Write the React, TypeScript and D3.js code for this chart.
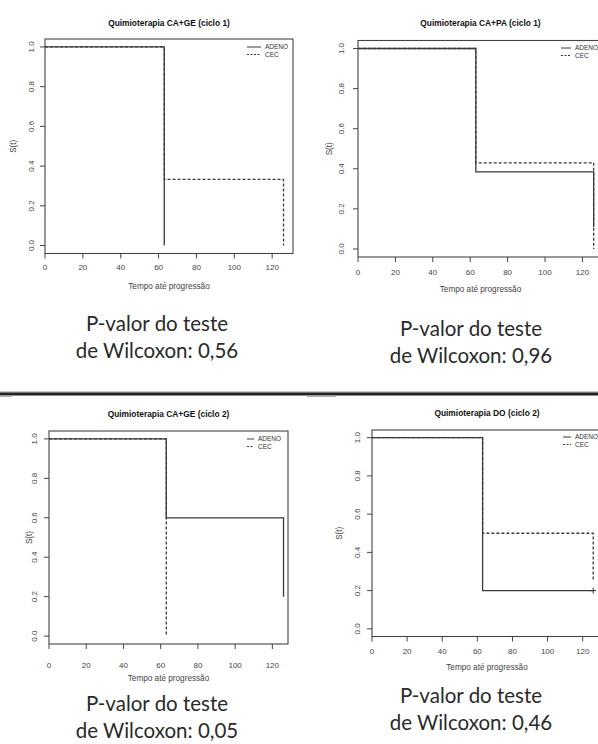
import React from 'react';
import * as d3 from 'd3';

// tick values shared by all four plots
const timeTicks = [0, 20, 40, 60, 80, 100, 120];
const survTicks = [0, 0.2, 0.4, 0.6, 0.8, 1.0];

// Kaplan-Meier steps (time, S(t))
const adeno1Times = [0, 63];
const adeno1Surv = [1, 0];
const cec1Times = [0, 63, 126];
const cec1Surv = [1, 0.333, 0];

const adeno2Times = [0, 63, 126];
const adeno2Surv = [1, 0.385, 0.11];
const cec2Times = [0, 63, 126];
const cec2Surv = [1, 0.43, 0];

const adeno3Times = [0, 63, 126];
const adeno3Surv = [1, 0.6, 0.2];
const cec3Times = [0, 63];
const cec3Surv = [1, 0];

const adeno4Times = [0, 63, 126];
const adeno4Surv = [1, 0.2, 0.2];
const cec4Times = [0, 63, 126];
const cec4Surv = [1, 0.5, 0.25];
const adeno4Censor = [126];

const titles = [
  'Quimioterapia CA+GE (ciclo 1)',
  'Quimioterapia CA+PA (ciclo 1)',
  'Quimioterapia CA+GE (ciclo 2)',
  'Quimioterapia DO (ciclo 2)',
];
const pValues = ['0,56', '0,96', '0,05', '0,46'];
const legendLabels = ['ADENO', 'CEC'];

const toPoints = (ts: number[], ss: number[]) => ts.map((t, i) => ({ t, s: ss[i] }));

const panels = [
  {
    title: titles[0], adeno: toPoints(adeno1Times, adeno1Surv), cec: toPoints(cec1Times, cec1Surv), censor: [] as number[],
    left: 45, right: 293, top: 39, bottom: 253.5, xMax: 131, titleY: 26, tickY: 270, xLabY: 289, yLabX: 16, yTickX: 34,
    legX: 247, legLen: 14, legY: 47, pX: 157, pY: 331, pV: pValues[0],
  },
  {
    title: titles[1], adeno: toPoints(adeno2Times, adeno2Surv), cec: toPoints(cec2Times, cec2Surv), censor: [] as number[],
    left: 358, right: 603, top: 40.5, bottom: 257, xMax: 131, titleY: 26, tickY: 275, xLabY: 292, yLabX: 332, yTickX: 344,
    legX: 561, legLen: 10, legY: 48, pX: 471, pY: 336, pV: pValues[1],
  },
  {
    title: titles[2], adeno: toPoints(adeno3Times, adeno3Surv), cec: toPoints(cec3Times, cec3Surv), censor: [] as number[],
    left: 49, right: 288, top: 431, bottom: 644, xMax: 128.4, titleY: 417, tickY: 668, xLabY: 681, yLabX: 32, yTickX: 37,
    legX: 247, legLen: 7, legY: 439, pX: 157, pY: 711, pV: pValues[2],
  },
  {
    title: titles[3], adeno: toPoints(adeno4Times, adeno4Surv), cec: toPoints(cec4Times, cec4Surv), censor: adeno4Censor,
    left: 372, right: 602, top: 430, bottom: 636.5, xMax: 131, titleY: 416, tickY: 654, xLabY: 670, yLabX: 342, yTickX: 360,
    legX: 563, legLen: 8, legY: 437, pX: 471, pY: 703, pV: pValues[3],
  },
];

const ink = '#3a3a3a';
const rFont = '"Liberation Sans", Arial, sans-serif';

function Panel({ p }: { p: typeof panels[number] }) {
  const x = d3.scaleLinear().domain([0, p.xMax]).range([p.left, p.right]);
  const y = d3.scaleLinear().domain([-0.04, 1.04]).range([p.bottom, p.top]);
  const line = d3.line<{ t: number; s: number }>()
    .x(d => x(d.t))
    .y(d => y(d.s))
    .curve(d3.curveStepAfter);
  const adenoEnd = p.adeno[p.adeno.length - 1];

  return (
    <g>
      <text x={(p.left + p.right) / 2} y={p.titleY} textAnchor="middle" fontFamily={rFont}
        fontWeight="bold" fontSize={8.4} fill="#111">{p.title}</text>
      <rect x={p.left} y={p.top} width={p.right - p.left} height={p.bottom - p.top}
        fill="none" stroke="#444" strokeWidth={1.1} />
      {survTicks.map(v => (
        <g key={'y' + v}>
          <line x1={p.left - 5} x2={p.left} y1={y(v)} y2={y(v)} stroke="#444" />
          <text transform={`translate(${p.yTickX},${y(v)}) rotate(-90)`} textAnchor="middle"
            fontFamily={rFont} fontSize={8} fill="#444">{v.toFixed(1)}</text>
        </g>
      ))}
      {timeTicks.map(v => (
        <g key={'x' + v}>
          <line x1={x(v)} x2={x(v)} y1={p.bottom} y2={p.bottom + 5} stroke="#444" />
          <text x={x(v)} y={p.tickY} textAnchor="middle" fontFamily={rFont} fontSize={8} fill="#444">{v}</text>
        </g>
      ))}
      <text x={(p.left + p.right) / 2} y={p.xLabY} textAnchor="middle" fontFamily={rFont}
        fontSize={8.2} fill="#444">Tempo até progressão</text>
      <text transform={`translate(${p.yLabX},${(p.top + p.bottom) / 2}) rotate(-90)`} textAnchor="middle"
        fontFamily={rFont} fontSize={8.2} fill="#444">S(t)</text>

      <path d={line(p.cec) ?? ''} fill="none" stroke={ink} strokeWidth={1.3} strokeDasharray="3,2" />
      <path d={line(p.adeno) ?? ''} fill="none" stroke={ink} strokeWidth={1.3} />
      {p.censor.map(t => (
        <path key={'c' + t}
          d={`M${x(t) - 3},${y(adenoEnd.s)}h6M${x(t)},${y(adenoEnd.s) - 3}v6`}
          stroke={ink} strokeWidth={1} />
      ))}

      {legendLabels.map((lab, i) => (
        <g key={lab}>
          <line x1={p.legX} x2={p.legX + p.legLen} y1={p.legY + i * 7.5} y2={p.legY + i * 7.5}
            stroke={ink} strokeWidth={1} strokeDasharray={i === 1 ? '2,1.5' : undefined} />
          <text x={p.legX + p.legLen + 4} y={p.legY + i * 7.5 + 2.3} fontFamily={rFont} fontSize={6.5}
            fill="#333">{lab}</text>
        </g>
      ))}

      <text x={p.pX} y={p.pY} textAnchor="middle" fontFamily="Lato, sans-serif" fontSize={20.5} fill="#2a2a2a">
        P-valor do teste
      </text>
      <text x={p.pX} y={p.pY + 27} textAnchor="middle" fontFamily="Lato, sans-serif" fontSize={20.5} fill="#2a2a2a">
        {'de Wilcoxon: ' + p.pV}
      </text>
    </g>
  );
}

export default function App() {
  return (
    <svg width={598} height={744} style={{ position: 'absolute', left: 0, top: 0, background: '#fff' }}>
      <rect width={598} height={744} fill="#fff" />
      {panels.map((p, i) => <Panel key={i} p={p} />)}
      <rect x={0} y={391.5} width={598} height={1} fill="#999" />
      <rect x={0} y={392.5} width={598} height={3} fill="#222" />
      <rect x={0} y={395.5} width={12} height={1.5} fill="#aaa" />
      <rect x={307} y={395.5} width={29} height={1.5} fill="#aaa" />
    </svg>
  );
}
